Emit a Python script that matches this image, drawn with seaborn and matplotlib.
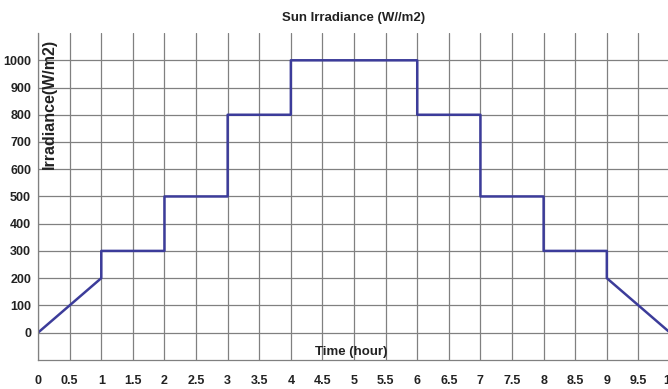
import numpy as np
import pandas as pd
import matplotlib
matplotlib.use("Agg")
import matplotlib.pyplot as plt
import seaborn as sns

# Hourly irradiance profile (piecewise: ramps and steps)
time_hours = [0, 1, 1, 2, 2, 3, 3, 4, 4, 6, 6, 7, 7, 8, 8, 9, 9, 10]
irradiance = [0, 200, 300, 300, 500, 500, 800, 800, 1000, 1000,
              800, 800, 500, 500, 300, 300, 200, 0]
x_ticks = [0, 0.5, 1, 1.5, 2, 2.5, 3, 3.5, 4, 4.5, 5, 5.5, 6, 6.5,
           7, 7.5, 8, 8.5, 9, 9.5, 10]
x_tick_labels = ["0", "0.5", "1", "1.5", "2", "2.5", "3", "3.5", "4", "4.5",
                 "5", "5.5", "6", "6.5", "7", "7.5", "8", "8.5", "9", "9.5", "10"]
y_ticks = [0, 100, 200, 300, 400, 500, 600, 700, 800, 900, 1000]

df = pd.DataFrame({"Time": time_hours, "Irradiance": irradiance})

sns.set_style("white")
plt.rcParams["font.family"] = ["Liberation Sans", "DejaVu Sans"]

fig = plt.figure(figsize=(6.68, 3.89), dpi=100)
ax = fig.add_axes([0.057, 0.075, 0.946, 0.840])

grid_color = "#808080"
text_color = "#222222"
ax.set_xlim(0, 10)
ax.set_ylim(-100, 1100)
ax.set_xticks(x_ticks)
ax.set_xticklabels(x_tick_labels, fontsize=9, fontweight="bold", color=text_color)
ax.set_yticks(y_ticks)
ax.set_yticklabels([str(v) for v in y_ticks], fontsize=9, fontweight="bold", color=text_color)
ax.grid(True, color=grid_color, linewidth=0.9)
ax.set_axisbelow(True)

sns.lineplot(data=df, x="Time", y="Irradiance", sort=False, estimator=None,
             color="#3c3c9a", linewidth=1.8, ax=ax)

for side in ["top", "right"]:
    ax.spines[side].set_visible(False)
for side in ["left", "bottom"]:
    ax.spines[side].set_color(grid_color)
    ax.spines[side].set_linewidth(0.9)

ax.tick_params(axis="x", direction="in", length=3, pad=11, color=grid_color)
ax.tick_params(axis="y", direction="in", length=3, pad=5, color=grid_color)

ax.set_xlabel("")
ax.set_ylabel("")
ax.text(4.95, -95, "Time (hour)", ha="center", va="bottom", fontsize=9.5,
        fontweight="bold", color=text_color)
ax.text(0.18, 840, "Irradiance(W/m2)", ha="center", va="center", rotation=90,
        fontsize=11.5, fontweight="bold", color=text_color)
ax.text(5, 1135, "Sun Irradiance (W//m2)", ha="center", va="bottom", fontsize=9.5,
        fontweight="bold", color=text_color)

fig.savefig("out.png", dpi=100, facecolor="white")
